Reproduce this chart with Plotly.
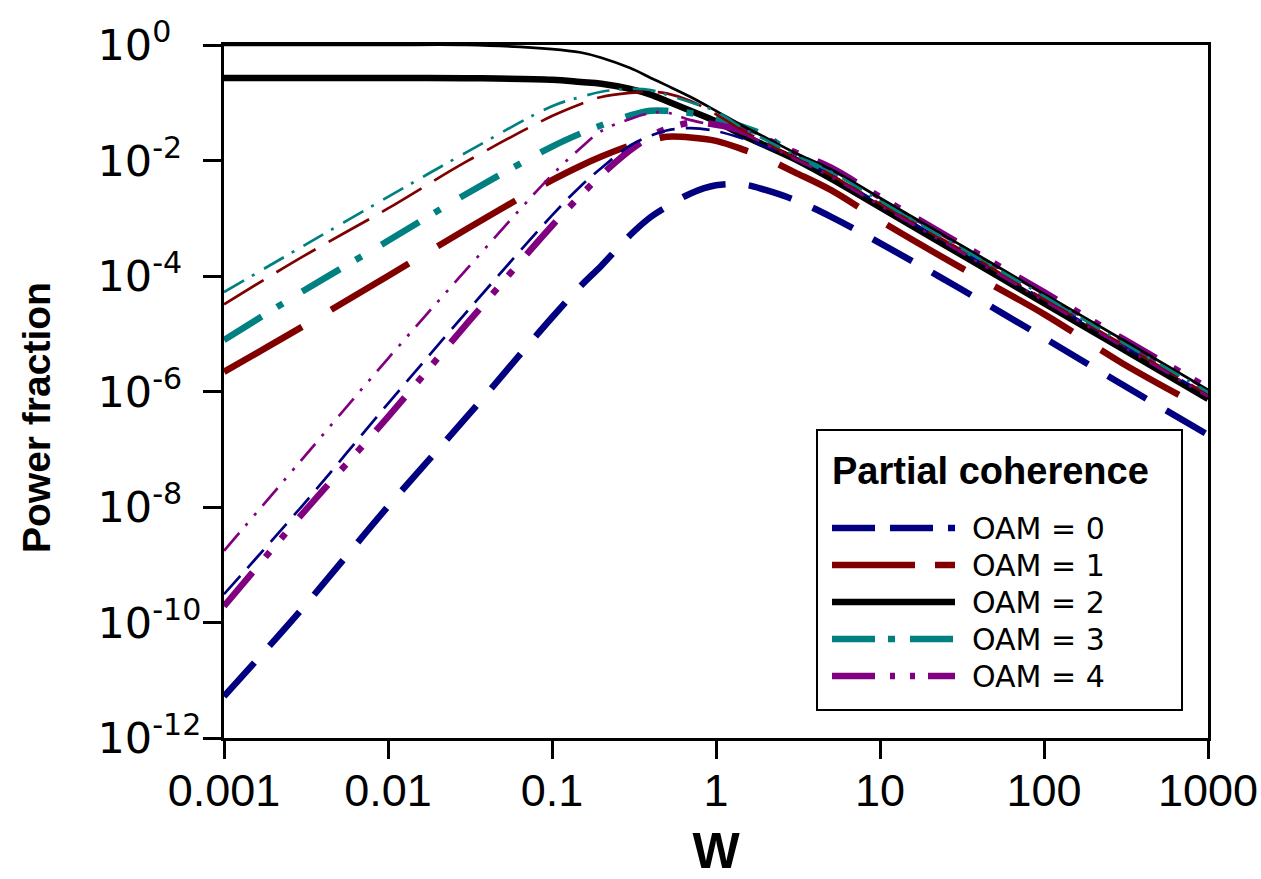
import plotly.graph_objects as go

# ---------------- data ----------------
W = [0.001, 0.003, 0.01, 0.03, 0.1, 0.15, 0.2, 0.3, 0.4, 0.5, 0.7, 1, 1.5, 2, 3, 5, 10, 30, 100, 300, 1000]

# thick lines: partial coherence
pc_oam0 = [5.25e-12, 1.74e-10, 1.02e-8, 3.55e-7, 1.91e-5, 6.76e-5, 1.51e-4, 5.13e-4, 1.05e-3, 1.58e-3, 2.69e-3, 3.72e-3, 3.80e-3, 3.09e-3, 2.09e-3, 1.07e-3, 3.72e-4, 6.31e-5, 8.51e-6, 1.32e-6, 1.78e-7]
pc_oam1 = [2.19e-6, 1.32e-5, 1.0e-4, 6.46e-4, 4.57e-3, 8.13e-3, 1.17e-2, 1.82e-2, 2.24e-2, 2.57e-2, 2.51e-2, 2.19e-2, 1.51e-2, 1.10e-2, 6.31e-3, 3.09e-3, 9.12e-4, 1.48e-4, 2.19e-5, 3.09e-6, 4.68e-7]
pc_oam2 = [0.269, 0.269, 0.269, 0.266, 0.251, 0.229, 0.214, 0.174, 0.138, 0.107, 7.24e-2, 4.79e-2, 2.63e-2, 1.82e-2, 1.07e-2, 4.90e-3, 1.55e-3, 2.51e-4, 3.39e-5, 5.50e-6, 7.41e-7]
pc_oam3 = [7.76e-6, 5.37e-5, 4.07e-4, 2.63e-3, 1.74e-2, 2.95e-2, 4.07e-2, 6.03e-2, 7.24e-2, 7.24e-2, 6.61e-2, 5.37e-2, 3.72e-2, 2.69e-2, 1.26e-2, 6.31e-3, 2.00e-3, 3.31e-4, 4.37e-5, 7.24e-6, 9.55e-7]
pc_oam4 = [1.91e-10, 7.59e-9, 3.63e-7, 1.45e-5, 7.41e-4, 2.51e-3, 5.62e-3, 1.51e-2, 2.63e-2, 3.55e-2, 4.47e-2, 4.17e-2, 3.16e-2, 2.34e-2, 1.41e-2, 7.59e-3, 2.34e-3, 3.80e-4, 5.25e-5, 8.32e-6, 1.15e-6]

# thin lines: full coherence
fc_oam0 = [3.09e-10, 1.05e-8, 6.17e-7, 2.34e-5, 1.12e-3, 3.63e-3, 7.41e-3, 1.82e-2, 2.69e-2, 3.31e-2, 3.63e-2, 3.24e-2, 2.34e-2, 1.74e-2, 1.12e-2, 5.62e-3, 1.78e-3, 2.88e-4, 3.89e-5, 6.31e-6, 8.51e-7]
fc_oam1 = [3.24e-5, 2.14e-4, 1.48e-3, 9.55e-3, 5.89e-2, 9.55e-2, 0.126, 0.148, 0.155, 0.145, 0.107, 6.31e-2, 3.16e-2, 2.04e-2, 1.12e-2, 5.62e-3, 1.78e-3, 3.02e-4, 3.98e-5, 6.61e-6, 8.71e-7]
fc_oam2 = [1.0, 1.0, 1.0, 1.0, 0.851, 0.741, 0.603, 0.398, 0.269, 0.200, 0.126, 7.24e-2, 3.80e-2, 2.51e-2, 1.38e-2, 7.08e-3, 2.24e-3, 3.63e-4, 4.90e-5, 7.94e-6, 1.07e-6]
fc_oam3 = [5.25e-5, 3.24e-4, 2.34e-3, 1.38e-2, 8.71e-2, 0.126, 0.155, 0.174, 0.166, 0.138, 0.102, 7.08e-2, 3.47e-2, 2.29e-2, 1.26e-2, 6.46e-3, 2.00e-3, 3.24e-4, 4.47e-5, 7.08e-6, 9.77e-7]
fc_oam4 = [1.74e-9, 6.76e-8, 3.72e-6, 1.29e-4, 5.62e-3, 1.66e-2, 3.24e-2, 5.25e-2, 6.61e-2, 6.76e-2, 5.01e-2, 3.98e-2, 2.82e-2, 1.91e-2, 1.07e-2, 5.25e-3, 1.66e-3, 2.75e-4, 3.72e-5, 6.03e-6, 8.13e-7]

series_labels = ["OAM = 0", "OAM = 1", "OAM = 2", "OAM = 3", "OAM = 4"]
legend_title = "Partial coherence"
x_title = "W"
y_title = "Power fraction"
x_tickvals = [0.001, 0.01, 0.1, 1, 10, 100, 1000]
x_ticktext = ["0.001", "0.01", "0.1", "1", "10", "100", "1000"]
y_tickvals = [1e-12, 1e-10, 1e-8, 1e-6, 1e-4, 1e-2, 1]
y_exponents = ["-12", "-10", "-8", "-6", "-4", "-2", "0"]

# ---------------- styles ----------------
colors = ["#000080", "#800000", "#000000", "#008080", "#800080"]
thick_dash = ["45px,23px", "90px,34px", "solid", "44px,18px,7px,23px", "44px,20px,7px,17px,7px,21px"]
thin_dash = ["24px,11px", "46px,15px", "solid", "23px,9px,3px,11px", "23px,10px,3px,10px,3px,10px"]
legend_dash = ["43px,15px,43px,15px,7px,200px", "83px,20px,20px,200px", "solid",
               "43px,13px,7px,15px,43px,200px", "43px,15px,5px,15px,5px,13px,27px,200px"]
THICK, THIN = 6.5, 2.7

# invisible padding so the "10" parts of the y labels line up on the left as in the reference
PAD = {"0": "-1", "-2": "0", "-4": "0", "-6": "0", "-8": "0", "-10": "", "-12": ""}
y_ticktext = []
for e in y_exponents:
    pad = PAD[e]
    s = "10<sup>" + e
    if pad:
        s += "<span style='color:rgba(0,0,0,0)'>" + pad + "</span>"
    s += "</sup>"
    y_ticktext.append(s)

fig = go.Figure()
pc = [pc_oam0, pc_oam1, pc_oam2, pc_oam3, pc_oam4]
fc = [fc_oam0, fc_oam1, fc_oam2, fc_oam3, fc_oam4]
for i in range(5):
    fig.add_trace(go.Scatter(x=W, y=pc[i], mode="lines", name=series_labels[i] + " (partial coherence)",
                             line=dict(color=colors[i], width=THICK, dash=thick_dash[i], shape="spline", smoothing=1),
                             showlegend=False))
for i in range(5):
    fig.add_trace(go.Scatter(x=W, y=fc[i], mode="lines", name=series_labels[i] + " (coherent)",
                             line=dict(color=colors[i], width=THIN, dash=thin_dash[i], shape="spline", smoothing=1),
                             showlegend=False))

# ---------------- layout ----------------
L, R, T, B = 224, 1208, 45, 738
FW, FH = 1261, 879
SANS = "Liberation Sans, Arial, sans-serif"

def px_x(p):
    return (p - L) / (R - L)

def px_y(p):
    return (B - p) / (B - T)

fig.update_layout(
    width=FW, height=FH,
    margin=dict(l=L, r=FW - R, t=T, b=FH - B, autoexpand=False),
    paper_bgcolor="white", plot_bgcolor="white",
    showlegend=False,
    xaxis=dict(type="log", range=[-3, 3], tickvals=x_tickvals, ticktext=x_ticktext,
               ticks="outside", ticklen=18, tickwidth=3, tickcolor="black",
               showline=True, linewidth=3, linecolor="black", mirror=True,
               showgrid=False, zeroline=False, ticklabeloverflow="allow", ticklabelstandoff=-7,
               tickfont=dict(family=SANS, size=45, color="black"),
               title=dict(text="<b>" + x_title + "</b>", font=dict(family=SANS, size=50, color="black"), standoff=26)),
    yaxis=dict(type="log", range=[-12, 0], tickvals=y_tickvals, ticktext=y_ticktext,
               ticks="outside", ticklen=18, tickwidth=3, tickcolor="black",
               showline=True, linewidth=3, linecolor="black", mirror=True,
               showgrid=False, zeroline=False, ticklabeloverflow="allow", ticklabelstandoff=-7,
               tickfont=dict(family="DejaVu Sans, sans-serif", size=43, color="black")),
)

# y-axis title (sits a little below the axis centre in the reference)
fig.add_annotation(xref="paper", yref="paper", x=px_x(37), y=px_y(418), xanchor="center", yanchor="middle",
                   text="<b>" + y_title + "</b>", textangle=-90, showarrow=False,
                   font=dict(family=SANS, size=39, color="black"))

# custom legend box
fig.add_shape(type="rect", xref="paper", yref="paper",
              x0=px_x(817), x1=px_x(1182), y0=px_y(710), y1=px_y(430),
              line=dict(color="black", width=2), fillcolor="white", layer="above")
fig.add_annotation(xref="paper", yref="paper", x=px_x(830), y=px_y(471), xanchor="left", yanchor="middle",
                   text="<b>" + legend_title + "</b>", showarrow=False,
                   font=dict(family=SANS, size=38, color="black"))
row_y = [528, 565, 602, 639, 676]
for i in range(5):
    fig.add_shape(type="line", xref="paper", yref="paper",
                  x0=px_x(832), x1=px_x(955), y0=px_y(row_y[i]), y1=px_y(row_y[i]),
                  line=dict(color=colors[i], width=THICK, dash=legend_dash[i]), layer="above")
    fig.add_annotation(xref="paper", yref="paper", x=px_x(970), y=px_y(row_y[i]), xanchor="left", yanchor="middle",
                       text=series_labels[i], showarrow=False,
                       font=dict(family="DejaVu Sans, sans-serif", size=30, color="black"))

fig.write_html("out.html")
